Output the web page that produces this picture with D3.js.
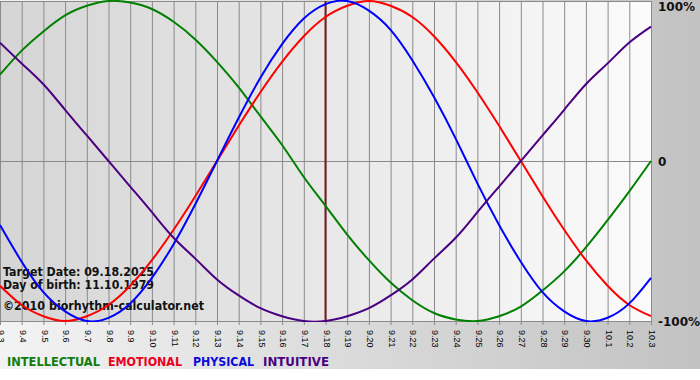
<!DOCTYPE html>
<html>
<head>
<meta charset="utf-8">
<script src="https://cdn.jsdelivr.net/npm/d3@7"></script>
<style>
  html, body { margin: 0; padding: 0; background: #fff; }
  svg { display: block; }
</style>
</head>
<body>
<div id="chart"></div>
<script>
// day labels along the bottom axis (9.3 .. 10.3)
const days = ["9.3","9.4","9.5","9.6","9.7","9.8","9.9","9.10","9.11","9.12","9.13","9.14","9.15","9.16",
  "9.17","9.18","9.19","9.20","9.21","9.22","9.23","9.24","9.25","9.26","9.27","9.28","9.29","9.30",
  "10.1","10.2","10.3"]
const targetDay = "9.18"

// one value per day, -1 .. 1
const intellectual = [0.54,0.69,0.81,0.91,0.97,1.00,0.99,0.95,0.87,0.76,0.62,0.46,0.28,0.10,-0.10,-0.28,
  -0.46,-0.62,-0.76,-0.87,-0.95,-0.99,-1.00,-0.97,-0.91,-0.81,-0.69,-0.54,-0.37,-0.19,0.00]
const emotional = [-0.78,-0.90,-0.97,-1.00,-0.97,-0.90,-0.78,-0.62,-0.43,-0.22,0.00,0.22,0.43,0.62,0.78,0.90,
  0.97,1.00,0.97,0.90,0.78,0.62,0.43,0.22,0.00,-0.22,-0.43,-0.62,-0.78,-0.90,-0.97]
const physical = [-0.40,-0.63,-0.82,-0.94,-1.00,-0.98,-0.89,-0.73,-0.52,-0.27,0.00,0.27,0.52,0.73,0.89,0.98,
  1.00,0.94,0.82,0.63,0.40,0.14,-0.14,-0.40,-0.63,-0.82,-0.94,-1.00,-0.98,-0.89,-0.73]
const intuitive = [0.74,0.61,0.48,0.32,0.16,0.00,-0.16,-0.32,-0.48,-0.61,-0.74,-0.84,-0.92,-0.97,-1.00,-1.00,
  -0.97,-0.92,-0.84,-0.74,-0.61,-0.48,-0.32,-0.16,0.00,0.16,0.32,0.48,0.61,0.74,0.84]

const seriesNames = ["INTELLECTUAL","EMOTIONAL","PHYSICAL","INTUITIVE"]
const seriesColors = ["#008000","#ff0000","#0000ff","#4b0082"]
const legendColors = ["#107c10","#e8001c","#0a0adc","#4b0082"]
const seriesValues = [intellectual, emotional, physical, intuitive]

const yTicks = [1, 0, -1]
const yTickLabels = ["100%", "0", "-100%"]

const infoLines = ["Target Date: 09.18.2025", "Day of birth: 11.10.1979", "\u00a92010 biorhythm-calculator.net"]

const width = 700
const height = 380
const marginTop = 1
const plotRight = 651
const plotBottom = 321
const frameBottom = 369

const svg = d3.select("#chart")
    .append("svg")
    .attr("width", width)
    .attr("height", height)
    .attr("viewBox", [0, 0, width, height])
    .style("font-family", "'DejaVu Sans', Verdana, sans-serif")

const defs = svg.append("defs")
const outerGrad = defs.append("linearGradient").attr("id", "outerGrad")
outerGrad.append("stop").attr("offset", "0%").attr("stop-color", "#f3f3f3")
outerGrad.append("stop").attr("offset", "100%").attr("stop-color", "#c2c2c2")
const plotGrad = defs.append("linearGradient").attr("id", "plotGrad")
plotGrad.append("stop").attr("offset", "0%").attr("stop-color", "#d5d5d5")
plotGrad.append("stop").attr("offset", "100%").attr("stop-color", "#fbfbfb")
defs.append("clipPath").attr("id", "plotClip")
    .append("rect").attr("x", 0).attr("y", 0).attr("width", plotRight + 1).attr("height", plotBottom + 1)

// scales
const x = d3.scaleLinear([0, days.length - 1], [0, plotRight])
const y = d3.scaleLinear([-1, 1], [plotBottom, marginTop])

// backgrounds
svg.append("rect").attr("width", width).attr("height", height).attr("fill", "#fff")
svg.append("rect").attr("width", width).attr("height", frameBottom).attr("fill", "url(#outerGrad)")
svg.append("rect")
    .attr("x", x(0)).attr("y", y(1))
    .attr("width", x(days.length - 1) - x(0)).attr("height", y(-1) - y(1))
    .attr("fill", "url(#plotGrad)")

// vertical day grid + bottom ticks
const xAxis = d3.axisBottom(x)
    .tickValues(d3.range(days.length))
    .tickFormat(i => days[i])
    .tickSizeInner(plotBottom - marginTop + 4)
    .tickSizeOuter(0)
    .tickPadding(5)

svg.append("g")
    .attr("transform", `translate(0,${marginTop})`)
    .call(xAxis)
    .call(g => g.select(".domain").remove())
    .call(g => g.selectAll(".tick line").attr("stroke", "#8a8a8a"))
    .call(g => g.selectAll(".tick text")
        .attr("fill", "#000")
        .attr("font-family", "'Liberation Sans', Arial, sans-serif")
        .attr("font-size", 9)
        .attr("text-anchor", "start")
        .attr("dy", null)
        .attr("dominant-baseline", "middle")
        .attr("transform", function() {
            const yy = +d3.select(this).attr("y")
            d3.select(this).attr("y", 0)
            return `translate(0,${yy}) rotate(90)`
        }))

// horizontal lines at 100%, 0, -100%
svg.append("g")
    .selectAll("line")
    .data(yTicks)
    .join("line")
    .attr("x1", x(0)).attr("x2", plotRight)
    .attr("y1", d => Math.round(y(d)) + 0.5).attr("y2", d => Math.round(y(d)) + 0.5)
    .attr("stroke", "#8a8a8a")

// right border
svg.append("line")
    .attr("x1", plotRight + 0.5).attr("x2", plotRight + 0.5)
    .attr("y1", y(1)).attr("y2", y(-1) + 4)
    .attr("stroke", "#8a8a8a")

// target date marker
const ti = days.indexOf(targetDay)
svg.append("line")
    .attr("x1", x(ti)).attr("x2", x(ti))
    .attr("y1", y(1)).attr("y2", y(-1))
    .attr("stroke", "#7b1c1c")
    .attr("stroke-width", 2)

// info text
const infoY = [276, 289, 310]
svg.append("g")
    .selectAll("text")
    .data(infoLines)
    .join("text")
    .attr("x", 3)
    .attr("y", (d, i) => infoY[i])
    .attr("font-size", 12)
    .attr("font-weight", "bold")
    .attr("fill", "#111")
    .attr("textLength", (d, i) => i === 2 ? 201 : 151)
    .attr("lengthAdjust", "spacingAndGlyphs")
    .text(d => d)

// curves
const line = d3.line()
    .x((d, i) => x(i))
    .y(d => y(d))
    .curve(d3.curveNatural)

svg.append("g")
    .attr("clip-path", "url(#plotClip)")
    .attr("fill", "none")
    .attr("stroke-width", 2)
    .attr("stroke-linejoin", "round")
    .selectAll("path")
    .data(seriesValues)
    .join("path")
    .attr("stroke", (d, i) => seriesColors[i])
    .attr("d", d => line(d))

// right-hand percentage labels
const yLabelOffset = [10, 5, 5]
svg.append("g")
    .selectAll("text")
    .data(yTicks)
    .join("text")
    .attr("x", plotRight + 7)
    .attr("y", (d, i) => y(d) + yLabelOffset[i])
    .attr("font-size", 12)
    .attr("font-weight", "bold")
    .attr("fill", "#111")
    .text((d, i) => yTickLabels[i])

// legend
const legendX = [7, 108, 193, 263]
const legendW = [93, 74, 61, 66]
svg.append("g")
    .selectAll("text")
    .data(seriesNames)
    .join("text")
    .attr("x", (d, i) => legendX[i])
    .attr("y", 366)
    .attr("font-size", 12)
    .attr("font-weight", "bold")
    .attr("fill", (d, i) => legendColors[i])
    .attr("textLength", (d, i) => legendW[i])
    .attr("lengthAdjust", "spacingAndGlyphs")
    .text(d => d)
</script>
</body>
</html>
